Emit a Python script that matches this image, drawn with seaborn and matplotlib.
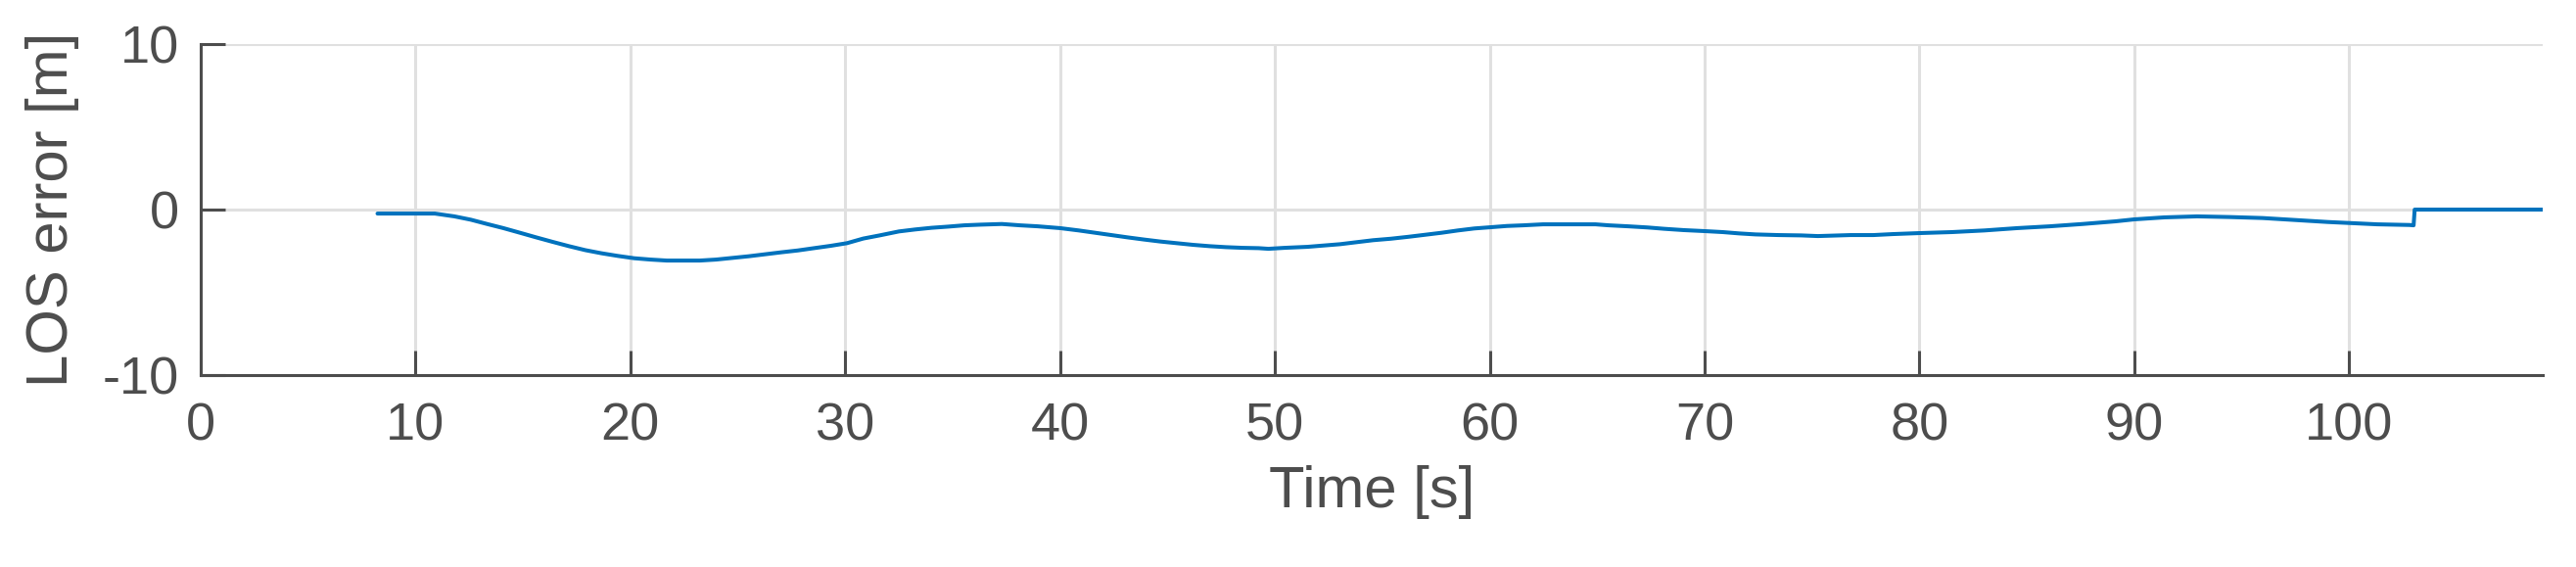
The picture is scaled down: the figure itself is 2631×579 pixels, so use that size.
import seaborn as sns
import matplotlib.pyplot as plt
import pandas as pd

# values
time_s = [8.23, 10.9, 11.81, 12.57, 13.33, 14.09, 14.86, 15.62, 16.38, 17.14, 17.9, 18.66,
          19.42, 20.18, 20.94, 21.7, 22.47, 23.23, 23.99, 24.75, 25.51, 26.27, 27.03, 27.79,
          28.55, 29.32, 30.08, 30.84, 31.6, 32.5, 33.26, 34.02, 34.78, 35.54, 36.3, 37.29,
          38.13, 38.96, 40.0, 40.87, 41.63, 42.39, 43.15, 43.91, 44.67, 45.43, 46.19, 46.96,
          47.72, 48.48, 49.24, 49.7, 50.46, 51.52, 52.28, 53.04, 53.8, 54.57, 55.4, 56.24,
          57.0, 57.76, 58.52, 59.28, 60.0, 60.8, 61.57, 62.48, 63.7, 64.92, 65.53, 66.44,
          67.35, 68.11, 69.03, 70.0, 70.85, 71.61, 72.37, 73.44, 74.5, 75.27, 76.79, 77.85,
          78.77, 80.0, 81.51, 83.03, 84.55, 86.07, 87.6, 89.12, 90.0, 91.4, 92.92, 94.44,
          95.97, 97.49, 99.01, 100.0, 101.3, 102.8, 103.0, 103.05, 109.0]
los_error = [-0.24, -0.24, -0.41, -0.61, -0.87, -1.12, -1.40, -1.68, -1.95, -2.21, -2.45, -2.64,
             -2.80, -2.94, -3.02, -3.08, -3.08, -3.08, -3.02, -2.92, -2.82, -2.70, -2.58, -2.47,
             -2.33, -2.19, -2.03, -1.75, -1.56, -1.32, -1.20, -1.10, -1.03, -0.95, -0.91, -0.87,
             -0.95, -1.01, -1.12, -1.26, -1.40, -1.54, -1.68, -1.81, -1.93, -2.03, -2.13, -2.21,
             -2.27, -2.31, -2.33, -2.37, -2.31, -2.25, -2.17, -2.09, -1.97, -1.85, -1.76, -1.64,
             -1.52, -1.40, -1.26, -1.14, -1.07, -0.99, -0.95, -0.89, -0.89, -0.89, -0.95, -1.01,
             -1.08, -1.16, -1.24, -1.30, -1.36, -1.44, -1.50, -1.54, -1.56, -1.60, -1.54, -1.54,
             -1.48, -1.42, -1.36, -1.26, -1.12, -1.01, -0.87, -0.71, -0.59, -0.47, -0.41, -0.45,
             -0.51, -0.63, -0.75, -0.81, -0.89, -0.93, -0.95, 0.0, 0.0]
x_ticks = [0, 10, 20, 30, 40, 50, 60, 70, 80, 90, 100]
y_ticks = [-10, 0, 10]

df = pd.DataFrame({'Time': time_s, 'err': los_error})

sns.set_style('whitegrid', {'grid.color': '#e0e0e0', 'axes.edgecolor': '#4d4d4d',
                            'xtick.bottom': True, 'ytick.left': True})
plt.rcParams['font.family'] = ['Liberation Sans', 'DejaVu Sans']
plt.rcParams['axes.unicode_minus'] = False
text_col = '#4d4d4d'

fig = plt.figure(figsize=(26.31, 5.79), dpi=100)
ax = fig.add_axes([0.0779, 0.3385, 0.9091, 0.5837])

sns.lineplot(data=df, x='Time', y='err', ax=ax, color='#0072BD', linewidth=2.9,
             sort=False, estimator=None)

ax.set_xlim(0, 109)
ax.set_ylim(-10, 10)
ax.set_xticks(x_ticks)
ax.set_yticks(y_ticks)
ax.grid(True, color='#e0e0e0', linewidth=2.2)
ax.set_axisbelow(True)

for side in ['top', 'right']:
    ax.spines[side].set_visible(False)
for side in ['left', 'bottom']:
    ax.spines[side].set_linewidth(2.2)
    ax.spines[side].set_color(text_col)

ax.tick_params(axis='both', direction='in', length=18, width=2.2, color=text_col,
               labelsize=39, labelcolor=text_col, bottom=True, left=True)
ax.tick_params(axis='x', pad=20)
ax.tick_params(axis='y', pad=16)

ax.set_xlabel('Time [s]', fontsize=43, color=text_col, labelpad=10)
ax.set_ylabel('LOS error [m]', fontsize=43, color=text_col, labelpad=17)

fig.savefig('out.png', dpi=100)
